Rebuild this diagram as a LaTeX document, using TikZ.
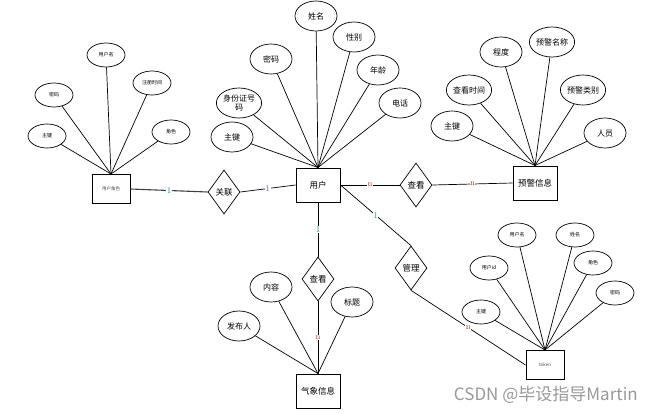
\documentclass[tikz,border=0pt]{standalone}
\usepackage{fontspec}
\usepackage{xcolor}
\usepackage{tikz}
\usetikzlibrary{arrows.meta, positioning, shapes.geometric}
\newfontfamily\cjk{Noto Sans CJK SC}
\definecolor{onecol}{RGB}{0, 140, 165}
\definecolor{manycol}{RGB}{185, 60, 30}

\begin{document}
\begin{tikzpicture}[
    x=1pt, y=-1pt,
    entity/.style={rectangle, draw=black, line width=1pt, fill=white, minimum width=44pt, minimum height=34pt, inner sep=0pt, font=\cjk\fontsize{8.5}{10}\selectfont},
    smallentity/.style={entity, minimum width=38pt, minimum height=29pt, font=\cjk\fontsize{4.5}{5}\selectfont\color{black!70}},
    attr/.style={ellipse, draw=black, line width=0.7pt, fill=white, minimum width=42pt, minimum height=30pt, inner sep=0pt, align=center, font=\cjk\fontsize{8}{9}\selectfont},
    smallattr/.style={attr, minimum width=38pt, minimum height=24pt, font=\cjk\fontsize{5}{6}\selectfont},
    rel/.style={diamond, aspect=0.73, draw=black, line width=0.7pt, fill=white, minimum width=32pt, minimum height=44pt, inner sep=0pt, font=\cjk\fontsize{8.5}{10}\selectfont},
    link/.style={line width=0.7pt, black},
    card/.style={fill=white, inner sep=0.5pt, font=\fontsize{8.5}{8.5}\selectfont},
    one/.style={card, text=onecol},
    many/.style={card, text=manycol}
  ]
  \useasboundingbox (0,0) rectangle (654,413);

  % Entities
  \node[smallentity] (role) at (111,189) {用户角色};
  \node[entity] (user) at (318,185) {用户};
  \node[entity] (warn) at (535,183) {预警信息};
  \node[entity] (weather) at (318,391) {气象信息};
  \node[smallentity] (token) at (545,365) {token};

  % Relationships
  \node[rel] (assoc) at (224,192) {关联};
  \node[rel] (viewwarn) at (416,185) {查看};
  \node[rel] (viewinfo) at (318,279) {查看};
  \node[rel] (manage) at (411,268) {管理};

  % Attributes of each entity
  \foreach \i/\x/\y/\name in {0/47/136/主键, 1/54/95/密码, 2/106/55/用户名, 3/152/83/注册时间, 4/171/132/角色} {
    \node[smallattr] (ra\i) at (\x,\y) {\name};
    \draw[link] (ra\i) -- (role.north);
  }
  \foreach \i/\x/\y/\name in {0/232/137/主键, 1/239/103/{身份证号\\码}, 2/271/59/密码, 3/316/16/姓名, 4/354/37/性别, 5/378/70/年龄, 6/400/103/电话} {
    \node[attr] (ua\i) at (\x,\y) {\name};
    \draw[link] (ua\i) -- (user.north);
  }
  \foreach \i/\x/\y/\name in {0/452/126/主键, 1/469/90/查看时间, 2/501/52/程度, 3/552/42/预警名称, 4/583/90/预警类别, 5/605/133/人员} {
    \node[attr] (wa\i) at (\x,\y) {\name};
    \draw[link] (wa\i) -- (warn.north);
  }
  \foreach \i/\x/\y/\name in {0/239/326/发布人, 1/271/287/内容, 2/352/302/标题} {
    \node[attr] (ia\i) at (\x,\y) {\name};
    \draw[link] (ia\i) -- (weather.north);
  }
  \foreach \i/\x/\y/\name in {0/481/312/主键, 1/489/268/用户id, 2/517/235/用户名, 3/575/235/姓名, 4/593/263/角色, 5/615/293/密码} {
    \node[smallattr] (ta\i) at (\x,\y) {\name};
    \draw[link] (ta\i) -- (token.north);
  }

  % Connectors with cardinalities
  \draw[link, line width=1.1pt, black!75] (role.east) -- node[one] {1} (assoc.west);
  \draw[link] (assoc.east) -- node[one] {1} (user.west);
  \draw[link] (user.east) -- node[many] {n} (viewwarn.west);
  \draw[link] (viewwarn.east) -- node[many] {n} (warn.west);
  \draw[link] (user.south) -- node[one] {1} (viewinfo.north);
  \draw[link] (viewinfo.south) -- node[many] {n} (weather.north);
  \draw[link] (user.east) -- node[one] {1} (manage.north);
  \draw[link] (manage.south) -- node[many] {n} (token.west);

  % Watermark
  \node[font=\cjk\fontsize{17}{18}\selectfont, text=black!40, anchor=east, inner sep=0pt] (mark) at (638,395) {CSDN @毕设指导Martin};

\end{tikzpicture}
\end{document}
